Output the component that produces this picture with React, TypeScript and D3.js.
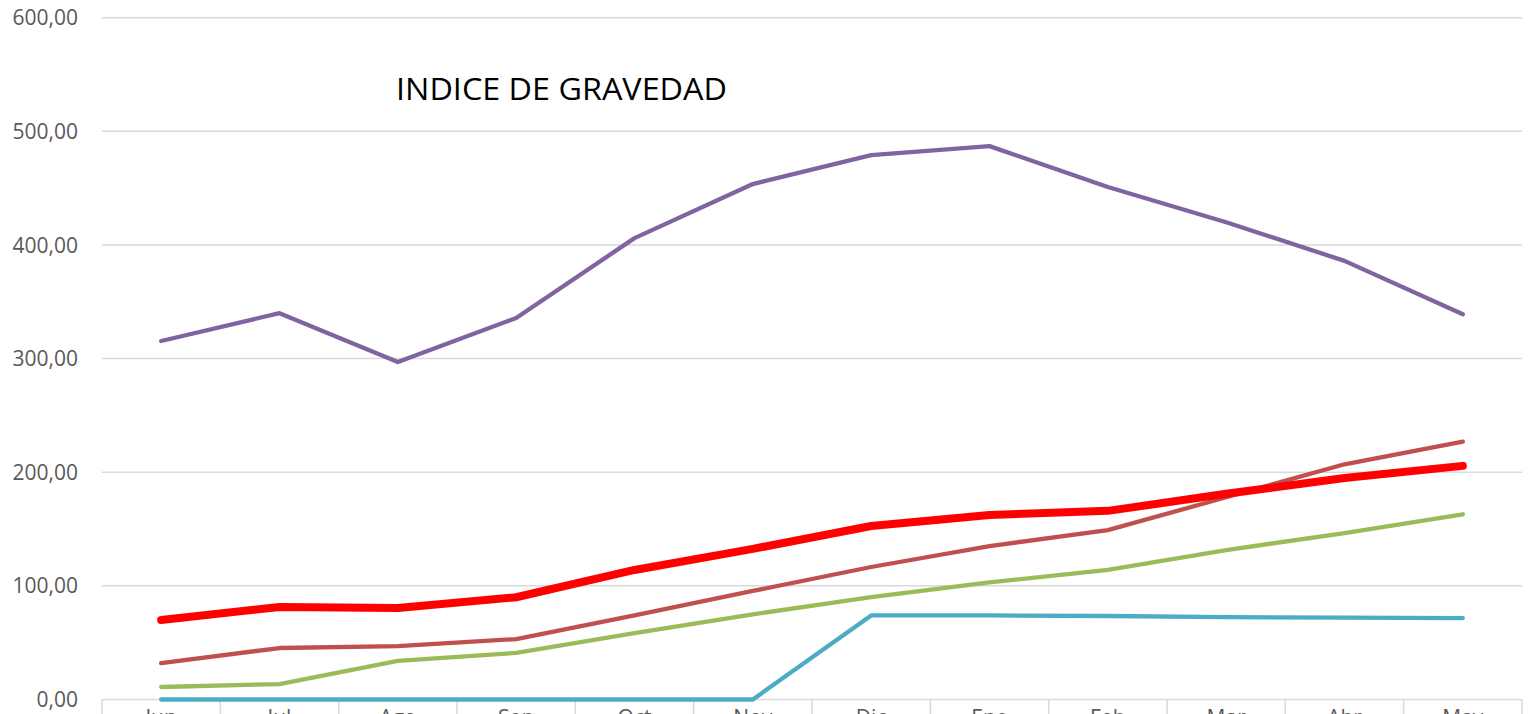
import React from "react";
import * as d3 from "d3";

const months = ["Jun", "Jul", "Ago", "Sep", "Oct", "Nov", "Dic", "Ene", "Feb", "Mar", "Abr", "May"];
const purpleSeries = [315.5, 340, 297, 335.7, 406, 453.6, 479, 487, 451, 420, 386, 339];
const redThickSeries = [70, 81.4, 80.5, 90, 114, 132.6, 152.7, 162.4, 166, 181, 195, 205.6];
const brownSeries = [32, 45.3, 47, 53.2, 74, 95.5, 116.6, 135, 149, 178, 207, 227];
const greenSeries = [11, 13.6, 34, 41, 58.5, 75, 90, 103, 114, 131.5, 146.5, 163];
const tealSeries = [0, 0, 0, 0, 0, 0, 74, 74, 73.5, 72.5, 72, 71.7];
const yTicks = [0, 100, 200, 300, 400, 500, 600];
const title = "INDICE DE GRAVEDAD";

const series = [
  { name: "purple", values: purpleSeries, color: "#8064A2", width: 4.3 },
  { name: "brown", values: brownSeries, color: "#C0504D", width: 4.3 },
  { name: "green", values: greenSeries, color: "#9BBB59", width: 4.3 },
  { name: "teal", values: tealSeries, color: "#4BACC6", width: 4.3 },
  { name: "red", values: redThickSeries, color: "#FF0000", width: 8 },
];

export default function App() {
  const W = 1534;
  const H = 714;
  const left = 102;
  const right = 1522;
  const x = d3.scaleBand<string>().domain(months).range([left, right]);
  const y = d3.scaleLinear().domain([0, 600]).range([699.5, 17.7]);
  const line = (vals: number[]) =>
    d3
      .line<number>()
      .x((_, i) => (x(months[i]) as number) + x.bandwidth() / 2)
      .y((v) => y(v))(vals) as string;
  const font = "'Open Sans', 'Noto Sans', sans-serif";
  return (
    <svg
      width={W}
      height={H}
      style={{ position: "absolute", left: 0, top: 0, background: "#fff" }}
    >
      {yTicks.map((t) => (
        <g key={t}>
          <line x1={left} x2={right} y1={y(t)} y2={y(t)} stroke="#D9D9D9" strokeWidth={1.5} />
          <text
            x={78}
            y={y(t)}
            dy="0.36em"
            textAnchor="end"
            fontFamily={font}
            fontSize={21}
            fill="#595959"
          >
            {d3.format(".2f")(t).replace(".", ",")}
          </text>
        </g>
      ))}
      {months.map((m) => (
        <line
          key={"tk" + m}
          x1={x(m) as number}
          x2={x(m) as number}
          y1={y(0)}
          y2={y(0) + 20}
          stroke="#D9D9D9"
          strokeWidth={1.5}
        />
      ))}
      <line x1={right} x2={right} y1={y(0)} y2={y(0) + 20} stroke="#D9D9D9" strokeWidth={1.5} />
      {months.map((m) => (
        <text
          key={"lb" + m}
          x={(x(m) as number) + x.bandwidth() / 2}
          y={725}
          textAnchor="middle"
          fontFamily={font}
          fontSize={21}
          fill="#595959"
        >
          {m}
        </text>
      ))}
      {series.map((s) => (
        <path
          key={s.name}
          d={line(s.values)}
          fill="none"
          stroke={s.color}
          strokeWidth={s.width}
          strokeLinejoin="round"
          strokeLinecap="round"
        />
      ))}
      <text
        x={396}
        y={100}
        fontFamily={font}
        fontSize={31}
        fill="#000"
        textLength={331}
        lengthAdjust="spacingAndGlyphs"
      >
        {title}
      </text>
    </svg>
  );
}
